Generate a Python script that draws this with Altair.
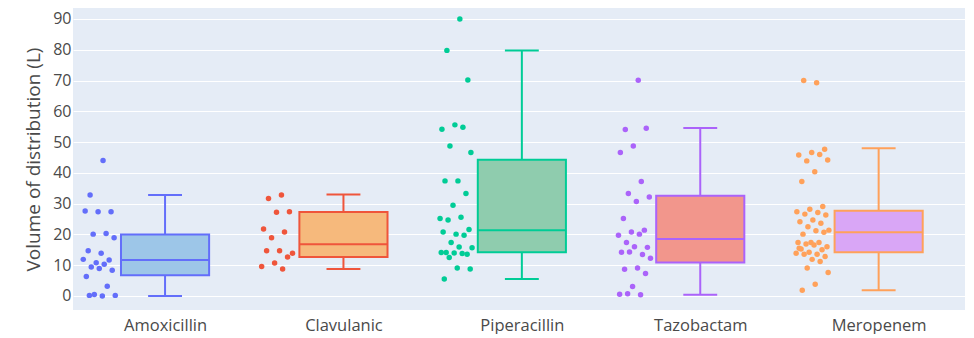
import altair as alt
import pandas as pd

drugs = ["Amoxicillin", "Clavulanic", "Piperacillin", "Tazobactam", "Meropenem"]

line_colors = ["#636EFA", "#EF553B", "#00CC96", "#AB63FA", "#FFA15A"]
fill_colors = ["#9DC6E8", "#F6B97C", "#8FCCAE", "#F2968C", "#D9A6F6"]

amoxicillin = [44.0, 32.8, 27.4, 27.4, 27.6, 20.3, 20.1, 18.9, 13.9, 14.7,
               11.7, 10.8, 11.9, 10.3, 9.4, 8.4, 8.9, 6.3, 3.2, 0.5, 0.2, 0.0, 0.2]
clavulanic = [32.8, 31.7, 27.4, 27.2, 21.8, 20.8, 18.9, 13.9, 14.7, 14.7,
              12.7, 10.7, 9.6, 8.8]
piperacillin = [90.0, 79.8, 70.2, 55.6, 54.2, 54.8, 48.7, 46.6, 37.4, 37.4,
                33.3, 29.5, 25.2, 25.6, 24.7, 21.6, 20.1, 20.8, 19.7, 17.4,
                15.7, 15.9, 14.1, 13.6, 14.0, 14.1, 13.8, 12.5, 8.8, 9.1, 5.5]
tazobactam = [70.1, 54.1, 54.5, 48.7, 46.6, 37.2, 33.3, 32.2, 30.7, 25.2,
              21.4, 20.8, 19.7, 20.1, 17.4, 15.8, 16.0, 14.2, 13.5, 14.3,
              12.3, 9.1, 8.7, 7.3, 3.1, 0.6, 0.4, 0.7]
meropenem = [69.3, 70.0, 47.7, 46.6, 45.8, 46.0, 43.9, 44.2, 40.4, 37.2,
             29.1, 28.2, 27.4, 27.1, 26.6, 26.3, 24.7, 24.1, 23.6, 22.5,
             21.4, 21.2, 20.1, 20.7, 17.4, 17.4, 17.4, 16.9, 16.0, 16.6,
             15.3, 15.0, 14.2, 13.9, 13.6, 13.6, 12.8, 11.9, 15.5, 11.2,
             9.1, 7.6, 3.8, 1.9]

# box statistics
box_low = [0.0, 8.8, 5.5, 0.4, 1.9]
box_q1 = [6.7, 12.7, 14.2, 10.9, 14.2]
box_median = [11.7, 16.8, 21.4, 18.5, 20.7]
box_q3 = [20.0, 27.3, 44.3, 32.6, 27.7]
box_high = [32.8, 33.0, 79.8, 54.6, 48.0]

series = [amoxicillin, clavulanic, piperacillin, tazobactam, meropenem]
rows = []
for i, (d, vals) in enumerate(zip(drugs, series)):
    for v in vals:
        rows.append({"drug": d, "i": i, "value": v})
points_df = pd.DataFrame(rows)

box_df = pd.DataFrame({
    "drug": drugs, "i": list(range(len(drugs))),
    "low": box_low, "q1": box_q1, "median": box_median,
    "q3": box_q3, "high": box_high,
})

font = "Open Sans"
text_color = "#4a4a4a"
label_expr = "[" + ",".join("'%s'" % d for d in drugs) + "][datum.value]"

xscale = alt.Scale(domain=[-0.516, 4.484], nice=False, zero=False)
yscale = alt.Scale(domain=[-4.55, 93.57], nice=False, zero=False)

xaxis = alt.Axis(values=list(range(len(drugs))), labelExpr=label_expr, grid=False,
                 ticks=False, domain=False, title=None, labelFont=font,
                 labelFontSize=16.5, labelColor=text_color, labelPadding=7)
yaxis = alt.Axis(values=list(range(0, 91, 10)), grid=True, gridColor="white",
                 gridWidth=1, ticks=False, domain=False,
                 title="Volume of distribution (L)", titleFont=font,
                 titleFontSize=19, titleFontWeight="normal", titleColor=text_color,
                 labelFont=font, labelFontSize=16, labelColor=text_color,
                 labelPadding=2, titlePadding=9)

stroke_scale = alt.Scale(domain=drugs, range=line_colors)
fill_scale = alt.Scale(domain=drugs, range=fill_colors)

points = alt.Chart(points_df).transform_window(
    rank="row_number()", groupby=["drug"]
).transform_calculate(
    xp="datum.i - 0.37 + 0.19 * (((datum.rank * 0.618034) % 1) - 0.5)"
).mark_circle(size=30, opacity=1).encode(
    x=alt.X("xp:Q", scale=xscale, axis=xaxis),
    y=alt.Y("value:Q", scale=yscale, axis=yaxis),
    color=alt.Color("drug:N", scale=stroke_scale, legend=None),
)

base = alt.Chart(box_df).transform_calculate(
    bl="datum.i - 0.247", br="datum.i + 0.247",
    cl="datum.i - 0.095", cr="datum.i + 0.095",
)

whisker = base.mark_rule(strokeWidth=2).encode(
    x=alt.X("i:Q", scale=xscale, axis=xaxis),
    y=alt.Y("low:Q", scale=yscale, axis=yaxis),
    y2="high:Q",
    stroke=alt.Stroke("drug:N", scale=stroke_scale, legend=None),
)
cap_low = base.mark_rule(strokeWidth=2).encode(
    x=alt.X("cl:Q", scale=xscale, axis=xaxis), x2="cr:Q",
    y=alt.Y("low:Q", scale=yscale, axis=yaxis),
    stroke=alt.Stroke("drug:N", scale=stroke_scale, legend=None),
)
cap_high = base.mark_rule(strokeWidth=2).encode(
    x=alt.X("cl:Q", scale=xscale, axis=xaxis), x2="cr:Q",
    y=alt.Y("high:Q", scale=yscale, axis=yaxis),
    stroke=alt.Stroke("drug:N", scale=stroke_scale, legend=None),
)
box = base.mark_rect(strokeWidth=2).encode(
    x=alt.X("bl:Q", scale=xscale, axis=xaxis), x2="br:Q",
    y=alt.Y("q1:Q", scale=yscale, axis=yaxis), y2="q3:Q",
    fill=alt.Fill("drug:N", scale=fill_scale, legend=None),
    stroke=alt.Stroke("drug:N", scale=stroke_scale, legend=None),
)
median = base.mark_rule(strokeWidth=2).encode(
    x=alt.X("bl:Q", scale=xscale, axis=xaxis), x2="br:Q",
    y=alt.Y("median:Q", scale=yscale, axis=yaxis),
    stroke=alt.Stroke("drug:N", scale=stroke_scale, legend=None),
)

chart = alt.layer(points, whisker, cap_low, cap_high, box, median).properties(
    width=892, height=302,
    autosize=alt.AutoSizeParams(type="none"),
    padding={"left": 65, "top": 0, "right": 1, "bottom": 24},
).configure_view(fill="#E5ECF6", stroke=None)

chart.save("out.html", embed_options={"renderer": "svg", "actions": False})
